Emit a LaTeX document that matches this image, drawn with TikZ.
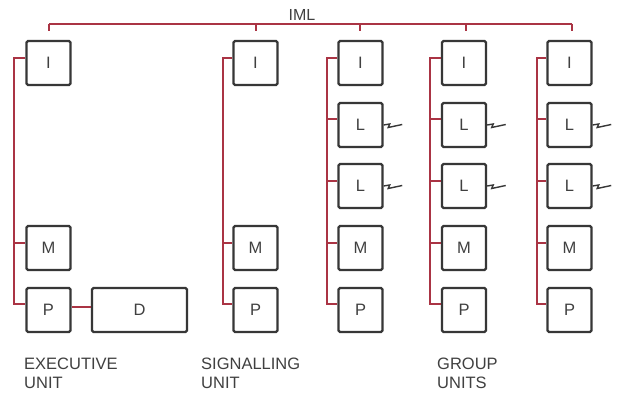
\documentclass[tikz,border=0pt]{standalone}
\usepackage{fontspec}
\setmainfont{Liberation Sans}
\definecolor{wire}{RGB}{170,52,68}
\definecolor{boxc}{RGB}{55,55,55}
\begin{document}
\begin{tikzpicture}[x=1pt,y=-1pt,
  unit/.style={draw=boxc,line width=2.4pt,rounded corners=1.5pt,minimum width=44pt,minimum height=44pt,inner sep=0pt,font=\fontsize{16.5}{19}\selectfont,text=black!75},
  wide/.style={unit,minimum width=95pt},
  red/.style={draw=wire,line width=1.6pt},
  squig/.style={draw=boxc,line width=1.4pt},
  lab/.style={align=left,anchor=north west,inner sep=0pt,font=\fontsize{16.5}{19}\selectfont,text=black!75}]
\useasboundingbox (0,0) rectangle (621,393);
\fill[white] (0,0) rectangle (621,393);

% IML bus
\node[anchor=base,inner sep=0pt,font=\fontsize{16}{19}\selectfont,text=black!75] (iml) at (302,21) {IML};
\coordinate (busL) at (49,24);
\coordinate (busR) at (572,24);
\draw[red] (busL) -- (busR);

% Column 1 (executive)
\node[unit] (I1) at (48.5,63) {I};
\node[unit] (M1) at (48.5,248) {M};
\node[unit] (P1) at (48.5,310) {P};
\node[wide] (D1) at (139.5,310) {D};
% Column 2 (signalling)
\node[unit] (I2) at (255.5,63) {I};
\node[unit] (M2) at (255.5,248) {M};
\node[unit] (P2) at (255.5,310) {P};
% Columns 3-5 (group)
\foreach \c/\x in {3/360.5,4/464,5/569.5}{
  \node[unit] (I\c) at (\x,63) {I};
  \node[unit] (La\c) at (\x,125) {L};
  \node[unit] (Lb\c) at (\x,186) {L};
  \node[unit] (M\c) at (\x,248) {M};
  \node[unit] (P\c) at (\x,310) {P};
}

% drops from bus
\draw[red] (busL) -- ([yshift=9pt]I1.north -| busL);
\foreach \c/\dx in {2/256,3/360,4/466,5/572}{
  \draw[red] (\dx,24) -- ([yshift=9pt]I\c.north -| {(\dx,0)});
}

% internal buses
\foreach \c/\v in {1/14,2/223}{
  \draw[red] ([yshift=5pt]I\c.west) -- ([yshift=5pt]I\c.west -| {(\v,0)}) -- ([yshift=6pt]P\c.west -| {(\v,0)}) -- ([yshift=6pt]P\c.west);
  \draw[red] ([yshift=5pt]M\c.west -| {(\v,0)}) -- ([yshift=5pt]M\c.west);
}
\foreach \c/\v in {3/327,4/430,5/537}{
  \draw[red] ([yshift=5pt]I\c.west) -- ([yshift=5pt]I\c.west -| {(\v,0)}) -- ([yshift=6pt]P\c.west -| {(\v,0)}) -- ([yshift=6pt]P\c.west);
  \draw[red] ([yshift=6pt]La\c.west -| {(\v,0)}) -- ([yshift=6pt]La\c.west);
  \draw[red] ([yshift=5pt]Lb\c.west -| {(\v,0)}) -- ([yshift=5pt]Lb\c.west);
  \draw[red] ([yshift=5pt]M\c.west -| {(\v,0)}) -- ([yshift=5pt]M\c.west);
  % line squiggles
  \draw[squig] (La\c.east) -- ++(6,-1) -- ++(-1.5,3.5) -- ++(14,-3);
  \draw[squig] (Lb\c.east) -- ++(6,-1) -- ++(-1.5,3.5) -- ++(14,-3);
}
% P - D link
\draw[red] ([yshift=3pt]P1.east) -- ([yshift=3pt]D1.west);

% labels
\node[lab] (le) at (24,358) {EXECUTIVE\\UNIT};
\node[lab] (ls) at (201,358) {SIGNALLING\\UNIT};
\node[lab] (lg) at (437,358) {GROUP\\UNITS};
\end{tikzpicture}
\end{document}
